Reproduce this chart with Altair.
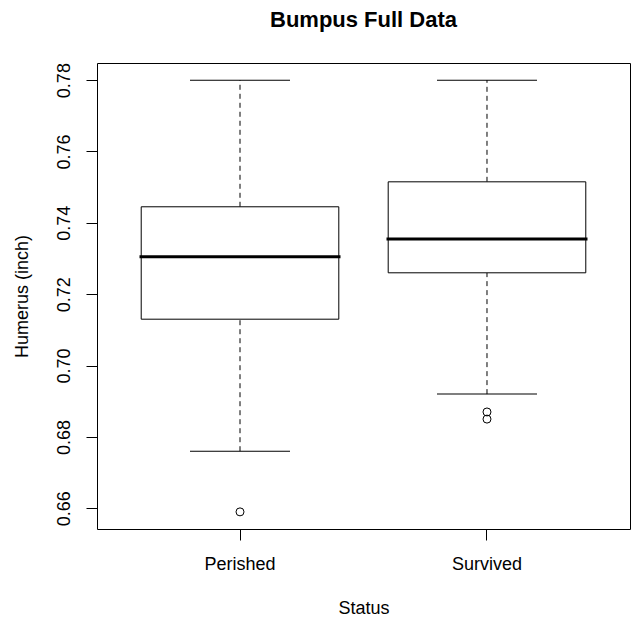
import altair as alt
import pandas as pd

status = ["Perished", "Survived"]
lower_whisker = [0.676, 0.692]
q1 = [0.713, 0.726]
median = [0.7305, 0.7355]
q3 = [0.7445, 0.7515]
upper_whisker = [0.780, 0.780]

outlier_status = ["Perished", "Survived", "Survived"]
outlier_values = [0.659, 0.687, 0.685]

y_ticks = [0.66, 0.68, 0.70, 0.72, 0.74, 0.76, 0.78]
y_domain = [0.6542, 0.7848]

FONT = "Liberation Sans"

stats = pd.DataFrame({
    "Status": status,
    "lower": lower_whisker,
    "q1": q1,
    "median": median,
    "q3": q3,
    "upper": upper_whisker,
})
outliers = pd.DataFrame({"Status": outlier_status, "value": outlier_values})

x_scale = alt.Scale(domain=status, paddingInner=0.2, paddingOuter=0.179, round=False)
y_scale = alt.Scale(domain=y_domain, nice=False, zero=False)

x_enc = alt.X(
    "Status:N", scale=x_scale, sort=status,
    axis=alt.Axis(
        title="Status", labelAngle=0, domain=False, tickSize=11, tickColor="black",
        labelFont=FONT, labelFontSize=18, labelColor="black", labelPadding=29,
        labelBaseline="alphabetic",
        titleFont=FONT, titleFontSize=18, titleFontWeight="normal", titleColor="black",
        titleBaseline="alphabetic", titleY=84,
    ),
)
y_axis = alt.Axis(
    title="Humerus (inch)", values=y_ticks, format=".2f", grid=False, domain=False,
    tickSize=11, tickColor="black", labelAngle=270, labelAlign="center",
    labelBaseline="alphabetic", labelPadding=17,
    labelFont=FONT, labelFontSize=18, labelColor="black",
    titleFont=FONT, titleFontSize=18, titleFontWeight="normal", titleColor="black",
    titleAngle=270, titleAlign="center", titleBaseline="alphabetic", titleX=-70, titleY=233,
)

base = alt.Chart(stats)

upper_rule = base.mark_rule(color="black", strokeWidth=1, strokeDash=[5, 4]).encode(
    x=x_enc, y=alt.Y("q3:Q", scale=y_scale, axis=y_axis), y2="upper:Q")
lower_rule = base.mark_rule(color="black", strokeWidth=1, strokeDash=[5, 4]).encode(
    x=x_enc, y=alt.Y("lower:Q", scale=y_scale, axis=y_axis), y2="q1:Q")
box = base.mark_bar(fill="white", stroke="black", strokeWidth=1).encode(
    x=x_enc, y=alt.Y("q1:Q", scale=y_scale, axis=y_axis), y2="q3:Q")
med = base.mark_tick(color="black", size=201, thickness=3, opacity=1).encode(
    x=x_enc, y=alt.Y("median:Q", scale=y_scale, axis=y_axis))
cap_up = base.mark_tick(color="black", size=100, thickness=1, opacity=1).encode(
    x=x_enc, y=alt.Y("upper:Q", scale=y_scale, axis=y_axis))
cap_lo = base.mark_tick(color="black", size=100, thickness=1, opacity=1).encode(
    x=x_enc, y=alt.Y("lower:Q", scale=y_scale, axis=y_axis))
pts = alt.Chart(outliers).mark_point(
    shape="circle", filled=False, size=64, color="black", strokeWidth=1, opacity=1
).encode(x=x_enc, y=alt.Y("value:Q", scale=y_scale, axis=y_axis))

chart = alt.layer(upper_rule, lower_rule, box, med, cap_up, cap_lo, pts).properties(
    width=533,
    height=466,
    title=alt.Title(
        "Bumpus Full Data", font=FONT, fontSize=22, fontWeight="bold", color="black",
        anchor="middle", baseline="alphabetic", offset=14,
    ),
    autosize=alt.AutoSizeParams(type="none"),
    padding={"left": 97, "top": 63, "right": 1, "bottom": 91},
).configure(background="white").configure_view(stroke="black", strokeWidth=1)

chart.save("out.html", embed_options={"renderer": "svg", "actions": False})
